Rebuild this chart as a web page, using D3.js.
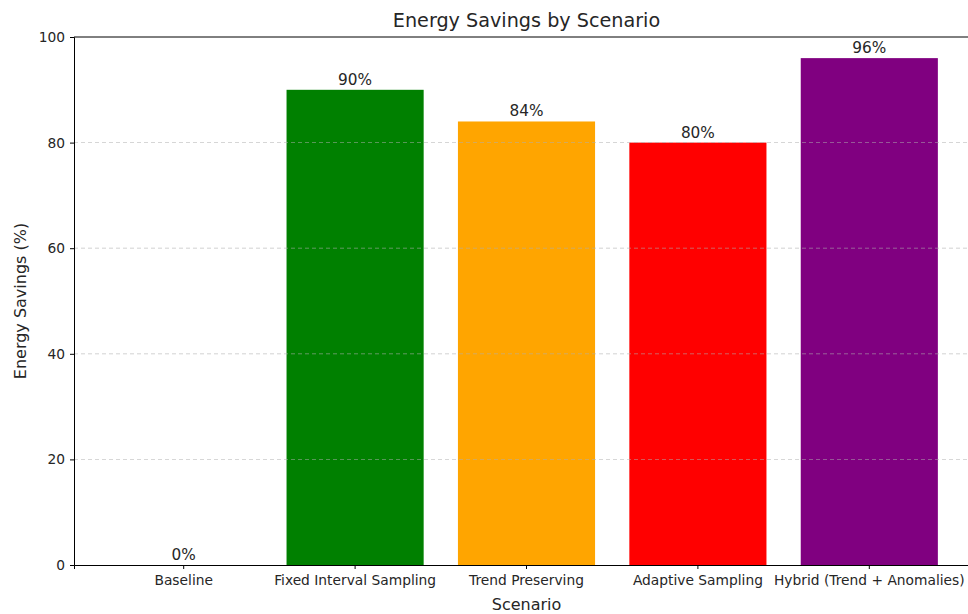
<!DOCTYPE html>
<html>
<head>
<meta charset="utf-8">
<script src="https://cdn.jsdelivr.net/npm/d3@7"></script>
<style>
  body { margin: 0; background: #fff; }
  text { font-family: 'DejaVu Sans', sans-serif; fill: #262626; }
  .tick text { font-size: 13.8px; fill: #262626; }
  .grid line { stroke: #b0b0b0; stroke-dasharray: 4, 3; stroke-width: 0.8; opacity: 0.7; }
</style>
</head>
<body>
<div id="chartContainer"></div>
<script>
const scenarios = ['Baseline', 'Fixed Interval Sampling', 'Trend Preserving', 'Adaptive Sampling', 'Hybrid (Trend + Anomalies)'];
const savings = [0, 90, 84, 80, 96];
const barColors = ['steelblue', 'green', 'orange', 'red', 'purple'];
const yTicks = [0, 20, 40, 60, 80, 100];

const svgWidth = 968;
const svgHeight = 614;
const margin = { top: 37, left: 74, bottom: 49 };
// the plot's right edge sits just outside the picture
const chartWidth = 905;
const chartHeight = svgHeight - margin.top - margin.bottom;

const svg = d3.select('#chartContainer').append('svg')
    .attr('width', svgWidth).attr('height', svgHeight);

const xScale = d3.scaleBand()
    .domain(scenarios)
    .range([0, chartWidth])
    .paddingInner(0.2)
    .paddingOuter(0.24);

const yScale = d3.scaleLinear().domain([0, 100]).range([chartHeight, 0]);

const chart = svg.append('g').attr('transform', `translate(${margin.left}, ${margin.top})`);

const data = scenarios.map((s, i) => ({ label: s, value: savings[i], color: barColors[i] }));

chart.selectAll('.bar')
    .data(data)
    .enter()
    .append('rect')
    .attr('class', 'bar')
    .attr('x', (d) => xScale(d.label))
    .attr('y', (d) => yScale(d.value))
    .attr('width', xScale.bandwidth())
    .attr('height', (d) => chartHeight - yScale(d.value))
    .attr('fill', (d) => d.color);

// grid over the bars, like the original
chart.append('g')
    .attr('class', 'grid')
    .selectAll('line')
    .data(yTicks.filter((t) => t > 0 && t < 100))
    .enter()
    .append('line')
    .attr('x1', 0)
    .attr('x2', chartWidth)
    .attr('y1', (d) => yScale(d))
    .attr('y2', (d) => yScale(d));

chart.selectAll('.value-label')
    .data(data)
    .enter()
    .append('text')
    .attr('class', 'value-label')
    .attr('x', (d) => xScale(d.label) + xScale.bandwidth() / 2)
    .attr('y', (d) => yScale(d.value) - 5)
    .attr('text-anchor', 'middle')
    .style('font-size', '15.3px')
    .text((d) => d.value + '%');

const xAxis = d3.axisBottom(xScale).tickSize(4).tickPadding(6);
const xg = chart.append('g')
    .attr('transform', `translate(0, ${chartHeight})`)
    .call(xAxis);
xg.select('.domain').attr('stroke', '#000').attr('stroke-width', 1);
xg.selectAll('.tick line').attr('stroke', '#000');

const yAxis = d3.axisLeft(yScale).tickValues(yTicks).tickSize(4).tickPadding(5);
const yg = chart.append('g').call(yAxis);
yg.select('.domain').attr('stroke', '#000').attr('stroke-width', 1);
yg.selectAll('.tick line').attr('stroke', '#000');

// top spine
chart.append('line')
    .attr('x1', 0).attr('x2', chartWidth)
    .attr('y1', 0).attr('y2', 0)
    .attr('stroke', '#000');

const centerX = margin.left + chartWidth / 2;

svg.append('text')
    .attr('x', centerX)
    .attr('y', 27)
    .attr('text-anchor', 'middle')
    .style('font-size', '19.2px')
    .text('Energy Savings by Scenario');

svg.append('text')
    .attr('x', centerX)
    .attr('y', 610)
    .attr('text-anchor', 'middle')
    .style('font-size', '16px')
    .text('Scenario');

svg.append('text')
    .attr('transform', `translate(26, ${margin.top + chartHeight / 2}) rotate(-90)`)
    .attr('text-anchor', 'middle')
    .style('font-size', '16px')
    .text('Energy Savings (%)');
</script>
</body>
</html>
